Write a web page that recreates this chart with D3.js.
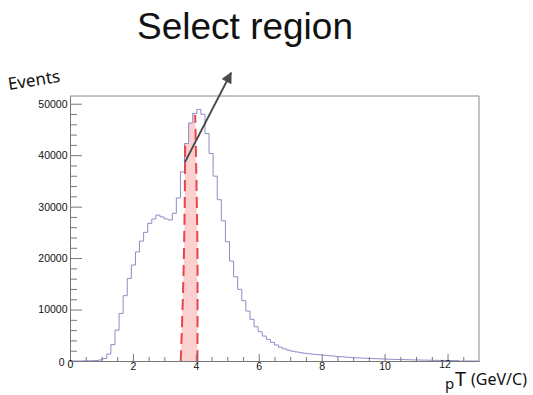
<!DOCTYPE html>
<html>
<head>
<meta charset="utf-8">
<script src="https://cdn.jsdelivr.net/npm/d3@7"></script>
<style>
body { margin: 0; background: #fff; }
svg { display: block; font-family: "Liberation Sans", Arial, Helvetica, sans-serif; }
</style>
</head>
<body>
<svg id="plotarea" width="533" height="395"></svg>
<script>
// histogram: 100 bins from 0 to 13 (pT in GeV/c)
var xLow = 0, xHigh = 13, nBins = 100;
var counts = [
    0, 0, 0, 20, 40, 60, 100, 200, 500, 1350,
    3200, 6000, 9250, 12700, 16050, 18650, 21200, 23300, 25000, 26750,
    27600, 28350, 28000, 27600, 27400, 28700, 31700, 36750, 42270, 46270,
    48100, 48900, 47950, 44200, 40330, 35920, 31350, 27250, 23170, 19420,
    16370, 13920, 11710, 9710, 8100, 6660, 5690, 4850, 4210, 3630,
    3100, 2660, 2350, 2100, 1900, 1750, 1620, 1500, 1400, 1320,
    1250, 1180, 1100, 1020, 950, 880, 820, 760, 700, 650,
    600, 560, 520, 490, 460, 430, 400, 370, 340, 310,
    290, 270, 250, 230, 210, 190, 175, 160, 145, 130,
    120, 110, 100, 90, 80, 0, 0, 0, 0, 0
];
var yMax = 51500;
var yTicks = [0, 10000, 20000, 30000, 40000, 50000];
var xTicks = [0, 2, 4, 6, 8, 10, 12];

// hand drawn selection band and arrow (data units)
var selLeft = [[3.52, 0], [3.6, 15000], [3.645, 30000], [3.66, 42300]];
var selRight = [[4.05, 0], [4.05, 22000], [4.01, 38000], [3.98, 47800]];
var arrowFrom = [3.65, 38600], arrowTo = [5.12, 56000];

var margin = {top: 96, right: 54, bottom: 34, left: 70};
var width = 533 - margin.left - margin.right;
var height = 395 - margin.top - margin.bottom;

var svg = d3.select("#plotarea");

var x = d3.scaleLinear().domain([xLow, xHigh]).range([0, width]);
var y = d3.scaleLinear().domain([0, yMax]).range([height, 0]);

var g = svg.append("g")
    .attr("transform", "translate(" + margin.left + "," + margin.top + ")");

var binW = (xHigh - xLow) / nBins;
var pts = counts.map(function(c, i) { return [xLow + i * binW, c]; });
pts.push([xHigh, counts[nBins - 1]]);

// clip for the shaded band = area under the histogram
var area = d3.area().curve(d3.curveStepAfter)
    .x(function(d) { return x(d[0]); })
    .y0(y(0))
    .y1(function(d) { return y(d[1]); });
var defs = svg.append("defs");
defs.append("clipPath").attr("id", "under")
    .append("path").attr("d", area(pts));

defs.append("marker")
    .attr("id", "head")
    .attr("markerUnits", "userSpaceOnUse")
    .attr("viewBox", "0 0 10 10")
    .attr("refX", 9).attr("refY", 5)
    .attr("markerWidth", 13).attr("markerHeight", 11)
    .attr("orient", "auto")
    .append("path").attr("d", "M0,0 L10,5 L0,10 z").attr("fill", "#4a4a4a");

var line = d3.line()
    .x(function(d) { return x(d[0]); })
    .y(function(d) { return y(d[1]); });

// pink band
var band = selLeft.concat([[selLeft[selLeft.length - 1][0], 70000],
    [selRight[selRight.length - 1][0], 70000]]).concat(selRight.slice().reverse());
g.append("path")
    .attr("d", line(band) + "Z")
    .attr("clip-path", "url(#under)")
    .attr("fill", "#fdd0d0");

// frame
g.append("line").attr("x1", 0).attr("x2", width).attr("y1", 0).attr("y2", 0)
    .attr("stroke", "#888").attr("stroke-width", 1);
g.append("line").attr("x1", width).attr("x2", width).attr("y1", 0).attr("y2", height)
    .attr("stroke", "#888").attr("stroke-width", 1);

// histogram outline
var stepLine = d3.line().curve(d3.curveStepAfter)
    .x(function(d) { return x(d[0]); })
    .y(function(d) { return y(d[1]); });
g.append("path")
    .attr("d", stepLine(pts))
    .attr("fill", "none")
    .attr("stroke", "#8c8cc8")
    .attr("stroke-width", 1);

// dashed edges of the selection
var wavy = d3.line().curve(d3.curveCatmullRom)
    .x(function(d) { return x(d[0]); })
    .y(function(d) { return y(d[1]); });
[selLeft, selRight].forEach(function(s) {
    g.append("path")
        .attr("d", wavy(s))
        .attr("fill", "none")
        .attr("stroke", "#e8444a")
        .attr("stroke-width", 2)
        .attr("stroke-dasharray", "11,6");
});

// axes
var yAxis = g.append("g")
    .call(d3.axisLeft(y).tickValues(yTicks).tickFormat(d3.format("d"))
        .tickSize(-12).tickSizeOuter(0).tickPadding(2.5));
g.append("g")
    .call(d3.axisLeft(y).tickValues(d3.range(0, yMax, 2000).filter(function(v) { return v % 10000; }))
        .tickSize(-7).tickSizeOuter(0).tickFormat(""));
var xAxis = g.append("g")
    .attr("transform", "translate(0," + height + ")")
    .call(d3.axisBottom(x).tickValues(xTicks).tickSize(-7).tickSizeOuter(0).tickPadding(2));
g.append("g")
    .attr("transform", "translate(0," + height + ")")
    .call(d3.axisBottom(x).tickValues(d3.range(0.5, xHigh, 0.5).filter(function(v) { return v % 2; }))
        .tickSize(-4).tickSizeOuter(0).tickFormat(""));

g.selectAll(".domain").attr("stroke", "#777");
g.selectAll(".tick line").attr("stroke", "#777");
g.selectAll(".tick text").attr("font-size", "10.5px").attr("fill", "#111")
    .attr("font-family", "'Liberation Sans', Arial, sans-serif");
yAxis.selectAll(".tick text").filter(function(d) { return d === 0; })
    .attr("dx", -3).attr("dy", "0.45em");
xAxis.selectAll(".tick text").filter(function(d) { return d === 0; })
    .attr("dy", "0.5em");
xAxis.selectAll(".tick text").filter(function(d) { return d === 12; })
    .attr("dx", -3).attr("dy", "0.5em");

// arrow
g.append("line")
    .attr("x1", x(arrowFrom[0])).attr("y1", y(arrowFrom[1]))
    .attr("x2", x(arrowTo[0])).attr("y2", y(arrowTo[1]))
    .attr("stroke", "#4a4a4a")
    .attr("stroke-width", 2)
    .attr("marker-end", "url(#head)");

// title and hand written labels
svg.append("text")
    .attr("x", 245).attr("y", 39)
    .attr("text-anchor", "middle")
    .attr("font-size", "37px")
    .attr("fill", "#111")
    .text("Select region");

svg.append("text")
    .attr("transform", "translate(9,90) rotate(-9)")
    .attr("font-family", "'Noto Sans', sans-serif")
    .attr("font-size", "17px")
    .attr("fill", "#111")
    .text("Events");

svg.append("text")
    .attr("x", 445).attr("y", 389)
    .attr("font-family", "'Noto Sans', sans-serif")
    .attr("font-size", "15px").attr("fill", "#111")
    .text("p");
svg.append("text")
    .attr("x", 455).attr("y", 386)
    .attr("font-family", "'Noto Sans', sans-serif")
    .attr("font-size", "20px").attr("fill", "#111")
    .text("T");
svg.append("text")
    .attr("x", 471).attr("y", 385)
    .attr("font-family", "'Noto Sans', sans-serif")
    .attr("font-size", "16px").attr("fill", "#111")
    .text("(GeV/C)");
</script>
</body>
</html>
